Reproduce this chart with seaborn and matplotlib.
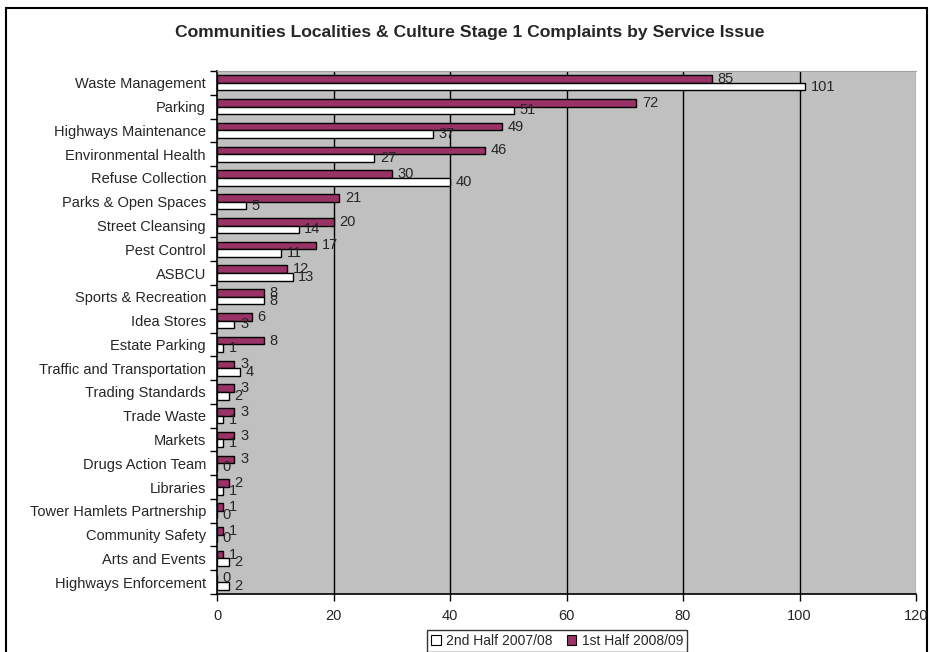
import pandas as pd
import matplotlib as mpl
from matplotlib import pyplot as plt
import seaborn as sns

# service issues, top to bottom as in the chart
categories = [
    "Waste Management", "Parking", "Highways Maintenance", "Environmental Health",
    "Refuse Collection", "Parks & Open Spaces", "Street Cleansing", "Pest Control",
    "ASBCU", "Sports & Recreation", "Idea Stores", "Estate Parking",
    "Traffic and Transportation", "Trading Standards", "Trade Waste", "Markets",
    "Drugs Action Team", "Libraries", "Tower Hamlets Partnership", "Community Safety",
    "Arts and Events", "Highways Enforcement",
]
second_half_0708 = [101, 51, 37, 27, 40, 5, 14, 11, 13, 8, 3, 1, 4, 2, 1, 1, 0, 1, 0, 0, 2, 2]
first_half_0809 = [85, 72, 49, 46, 30, 21, 20, 17, 12, 8, 6, 8, 3, 3, 3, 3, 3, 2, 1, 1, 1, 0]
series_names = ["2nd Half 2007/08", "1st Half 2008/09"]
x_ticks = [0, 20, 40, 60, 80, 100, 120]

colors = {"2nd Half 2007/08": "#FFFFFF", "1st Half 2008/09": "#993366"}

df = pd.concat([
    pd.DataFrame({"issue": categories, "count": second_half_0708, "period": series_names[0]}),
    pd.DataFrame({"issue": categories, "count": first_half_0809, "period": series_names[1]}),
], ignore_index=True)

sns.set_style("white")
plt.rcParams["font.family"] = ["Liberation Sans", "DejaVu Sans"]

fig = plt.figure(figsize=(9.31, 6.52), dpi=100)
ax = fig.add_axes([217 / 931, 1 - 594 / 652, 699 / 931, 523 / 652])
ax.set_facecolor("#C0C0C0")

# maroon series on top within each group
hue_order = [series_names[1], series_names[0]]
sns.barplot(data=df, y="issue", x="count", hue="period", hue_order=hue_order,
            order=categories, palette=colors, orient="h", width=0.64,
            edgecolor="black", linewidth=1.0, saturation=1, legend=False, ax=ax)

for container in ax.containers:
    labels = ax.bar_label(container, padding=4, fontsize=10.5)
    for t in labels:
        t.set_va("center")

ax.set_xlim(0, 120)
ax.set_xticks(x_ticks)
ax.set_xticklabels([str(v) for v in x_ticks], fontsize=10.5)
ax.set_ylim(len(categories) - 0.5, -0.5)
ax.set_xlabel("")
ax.set_ylabel("")
ax.tick_params(axis="y", which="major", length=0, labelsize=10.5, pad=8)
ax.set_yticks([i + 0.5 for i in range(-1, len(categories))], minor=True)
ax.tick_params(axis="y", which="minor", length=5, width=1, color="black", direction="out", left=True)
ax.tick_params(axis="x", which="major", length=5, width=1, color="black", direction="out",
               bottom=True, pad=6)
ax.grid(False)
for v in x_ticks[1:-1]:
    ax.axvline(v, color="black", lw=1.0, zorder=0.5)
ax.axvline(x_ticks[-1], color="#808080", lw=1.0, zorder=0.5)
for side in ["left", "bottom"]:
    ax.spines[side].set_color("black")
    ax.spines[side].set_linewidth(1.2)
ax.spines["top"].set_color("#A0A0A0")
ax.spines["right"].set_visible(False)

fig.text(470 / 931, 1 - 33 / 652,
         "Communities Localities & Culture Stage 1 Complaints by Service Issue",
         ha="center", va="center", fontsize=12.6, fontweight="bold")

handles = [mpl.patches.Patch(facecolor=colors[n], edgecolor="black", linewidth=0.8) for n in series_names]
leg = fig.legend(handles, series_names, loc="center", bbox_to_anchor=(557 / 931, 1 - 641 / 652),
                 ncol=2, handlelength=0.7, handleheight=0.7, handletextpad=0.4, columnspacing=1.0,
                 fontsize=10, frameon=True, fancybox=False, borderpad=0.3)
leg.get_frame().set_edgecolor("black")
leg.get_frame().set_linewidth(1.0)

# outer chart border
fig.add_artist(mpl.patches.Rectangle((6 / 931, -0.05), 921 / 931, 1.05 - 8 / 652,
                                     transform=fig.transFigure, fill=False,
                                     edgecolor="black", linewidth=1.5))

fig.savefig("out.png", dpi=100)
